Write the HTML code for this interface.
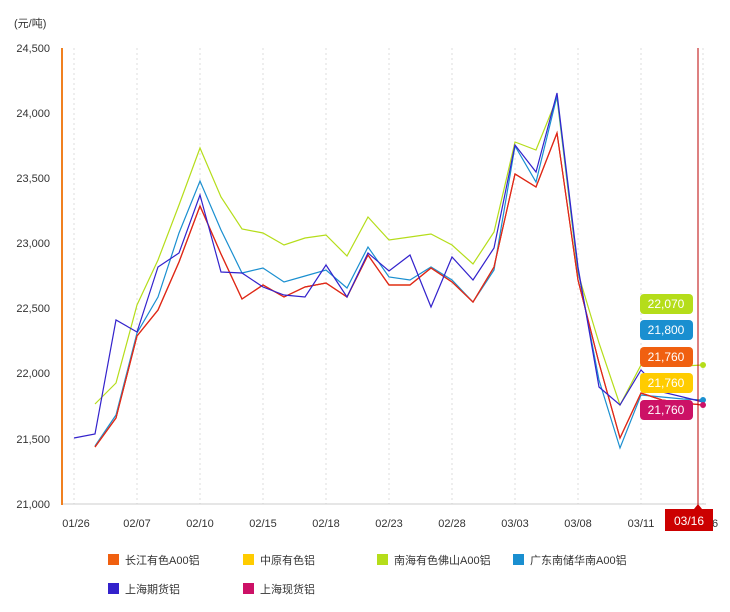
<!DOCTYPE html><html><head><meta charset="utf-8"><style>body{margin:0;background:#fff}svg{font-family:"Liberation Sans","Noto Sans CJK SC",sans-serif}</style></head><body>
<svg width="730" height="607" viewBox="0 0 730 607">
<text x="14" y="27" font-size="11" fill="#333">(元/吨)</text>
<g font-size="11" fill="#333" text-anchor="end">
<text x="50" y="52">24,500</text><text x="50" y="117">24,000</text><text x="50" y="182">23,500</text><text x="50" y="247">23,000</text><text x="50" y="312">22,500</text><text x="50" y="377">22,000</text><text x="50" y="443">21,500</text><text x="50" y="508">21,000</text></g>
<g stroke="#ddd" stroke-dasharray="2,3"><line x1="74" y1="48" x2="74" y2="504"/><line x1="137" y1="48" x2="137" y2="504"/><line x1="200" y1="48" x2="200" y2="504"/><line x1="263" y1="48" x2="263" y2="504"/><line x1="326" y1="48" x2="326" y2="504"/><line x1="389" y1="48" x2="389" y2="504"/><line x1="452" y1="48" x2="452" y2="504"/><line x1="515" y1="48" x2="515" y2="504"/><line x1="578" y1="48" x2="578" y2="504"/><line x1="641" y1="48" x2="641" y2="504"/><line x1="703" y1="48" x2="703" y2="504"/></g>
<line x1="62" y1="504" x2="706" y2="504" stroke="#ccc"/>
<line x1="62" y1="48" x2="62" y2="505" stroke="#f08020" stroke-width="2"/>
<g font-size="11" fill="#333" text-anchor="middle"><text x="76" y="527">01/26</text><text x="137" y="527">02/07</text><text x="200" y="527">02/10</text><text x="263" y="527">02/15</text><text x="326" y="527">02/18</text><text x="389" y="527">02/23</text><text x="452" y="527">02/28</text><text x="515" y="527">03/03</text><text x="578" y="527">03/08</text><text x="641" y="527">03/11</text><text x="715" y="527">6</text></g>
<g fill="none" stroke-width="1.2">
<polyline stroke="#b5dd1a" points="95,404 116,383 137,305 158,260 179,205 200,148 221,197 242,229 263,233 284,245 305,238 326,235 347,256 368,217 389,240 410,237 431,234 452,245 473,264 494,232 515,142 536,150 557,98 578,273 599,343 620,405 641,365 662,366 683,366 703,365"/>
<polyline stroke="#1a8fd0" points="95,446 116,415 137,333 158,297 179,233 200,181 221,230 242,273 263,268 284,282 305,276 326,270 347,288 368,247 389,277 410,280 431,267 452,280 473,302 494,270 515,146 536,182 557,96 578,270 599,380 620,448 641,395 662,397 683,399 703,400"/>
<polyline stroke="#ffcc00" points="95,447 116,418 137,336 158,310 179,262 200,206 221,254 242,299 263,285 284,297 305,287 326,283 347,297 368,255 389,285 410,285 431,268 452,282 473,302 494,267 515,174 536,187 557,133 578,280 599,363 620,438 641,393 662,400 683,403 703,405"/>
<polyline stroke="#f06010" points="95,447 116,418 137,336 158,310 179,262 200,206 221,254 242,299 263,285 284,297 305,287 326,283 347,297 368,255 389,285 410,285 431,268 452,282 473,302 494,267 515,174 536,187 557,133 578,280 599,363 620,438 641,393 662,400 683,403 703,405"/>
<polyline stroke="#dd2222" points="95,447 116,418 137,336 158,310 179,262 200,206 221,254 242,299 263,285 284,297 305,287 326,283 347,297 368,255 389,285 410,285 431,268 452,282 473,302 494,267 515,174 536,187 557,133 578,280 599,363 620,438 641,393 662,400 683,403 703,405"/>
<polyline stroke="#3322cc" points="74,438 95,434 116,320 137,332 158,267 179,253 200,195 221,272 242,273 263,287 284,295 305,297 326,265 347,297 368,253 389,271 410,255 431,307 452,257 473,280 494,248 515,145 536,172 557,93 578,267 599,387 620,405 641,370 662,392 683,397 703,402"/>
</g>
<line x1="698" y1="48" x2="698" y2="510" stroke="#b00" stroke-width="1"/>
<circle cx="703" cy="365" r="3" fill="#b5dd1a"/><circle cx="703" cy="400" r="3" fill="#1a8fd0"/><circle cx="703" cy="405" r="3" fill="#cc1166"/>
<g font-size="12" fill="#fff" text-anchor="middle">
<rect x="640" y="294" width="53" height="20" rx="4" fill="#b5dd1a"/><text x="666" y="308">22,070</text>
<rect x="640" y="320" width="53" height="20" rx="4" fill="#1a8fd0"/><text x="666" y="334">21,800</text>
<rect x="640" y="347" width="53" height="20" rx="4" fill="#f06010"/><text x="666" y="361">21,760</text>
<rect x="640" y="373" width="53" height="20" rx="4" fill="#ffcc00"/><text x="666" y="387">21,760</text>
<rect x="640" y="400" width="53" height="20" rx="4" fill="#cc1166"/><text x="666" y="414">21,760</text>
</g>
<rect x="665" y="509" width="48" height="22" fill="#cc0000"/><polygon points="694,509 698,504 702,509" fill="#cc0000"/>
<text x="689" y="525" font-size="12" fill="#fff" text-anchor="middle">03/16</text>
<g font-size="11" fill="#333">
<rect x="108" y="554" width="11" height="11" fill="#f06010"/><text x="125" y="564">长江有色A00铝</text>
<rect x="243" y="554" width="11" height="11" fill="#ffcc00"/><text x="260" y="564">中原有色铝</text>
<rect x="377" y="554" width="11" height="11" fill="#b5dd1a"/><text x="394" y="564">南海有色佛山A00铝</text>
<rect x="513" y="554" width="11" height="11" fill="#1a8fd0"/><text x="530" y="564">广东南储华南A00铝</text>
<rect x="108" y="583" width="11" height="11" fill="#3322cc"/><text x="125" y="593">上海期货铝</text>
<rect x="243" y="583" width="11" height="11" fill="#cc1166"/><text x="260" y="593">上海现货铝</text>
</g>
</svg></body></html>
